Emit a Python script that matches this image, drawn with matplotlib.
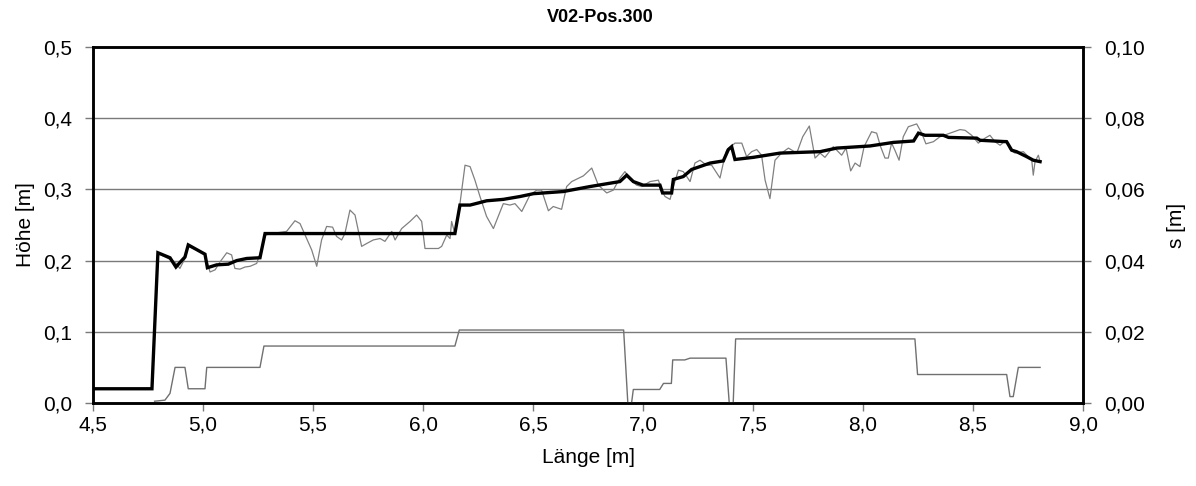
import matplotlib
matplotlib.use("Agg")
import matplotlib.pyplot as plt
from matplotlib.ticker import FuncFormatter, MultipleLocator

plt.rcParams["font.family"] = ["Liberation Sans", "DejaVu Sans"]

title = "V02-Pos.300"
x_label = "Länge [m]"
y_label_left = "Höhe [m]"
y_label_right = "s [m]"

# Höhe, smoothed profile (thick line)
profil_x = [4.50, 4.768, 4.795, 4.85, 4.877, 4.903, 4.918, 4.933, 5.009, 5.02, 5.062,
            5.115, 5.153, 5.199, 5.259, 5.282, 6.145, 6.168, 6.214, 6.252, 6.289, 6.365,
            6.441, 6.502, 6.638, 6.759, 6.895, 6.926, 6.956, 7.0, 7.077, 7.089, 7.130,
            7.138, 7.183, 7.221, 7.305, 7.365, 7.388, 7.403, 7.418, 7.501, 7.623, 7.805,
            7.880, 8.032, 8.138, 8.230, 8.252, 8.282, 8.365, 8.389, 8.517, 8.532, 8.653,
            8.676, 8.698, 8.744, 8.774, 8.805]
profil_h = [0.020, 0.020, 0.211, 0.204, 0.191, 0.200, 0.205, 0.222, 0.209, 0.190, 0.194,
            0.195, 0.200, 0.203, 0.204, 0.238, 0.238, 0.278, 0.278, 0.281, 0.284, 0.286,
            0.290, 0.294, 0.297, 0.304, 0.311, 0.320, 0.311, 0.306, 0.306, 0.295, 0.295,
            0.314, 0.318, 0.328, 0.337, 0.340, 0.356, 0.360, 0.342, 0.345, 0.351, 0.353,
            0.358, 0.361, 0.366, 0.368, 0.379, 0.376, 0.376, 0.373, 0.372, 0.369, 0.367,
            0.355, 0.353, 0.346, 0.341, 0.339]

# Höhe, raw measurement (thin line)
mess_x = [4.797, 4.873, 4.895, 4.918, 4.933, 4.971, 5.009, 5.032, 5.055, 5.077, 5.108,
          5.130, 5.145, 5.168, 5.191, 5.214, 5.244, 5.267, 5.282, 5.335, 5.380, 5.418,
          5.441, 5.471, 5.494, 5.517, 5.539, 5.562, 5.589, 5.607, 5.630, 5.645, 5.668,
          5.691, 5.721, 5.744, 5.774, 5.805, 5.827, 5.858, 5.873, 5.903, 5.941, 5.971,
          5.994, 6.009, 6.039, 6.070, 6.085, 6.108, 6.123, 6.130, 6.145, 6.168, 6.191,
          6.214, 6.236, 6.259, 6.289, 6.320, 6.342, 6.365, 6.395, 6.418, 6.449, 6.486,
          6.517, 6.539, 6.570, 6.592, 6.630, 6.653, 6.676, 6.729, 6.767, 6.797, 6.835,
          6.865, 6.895, 6.918, 6.941, 6.971, 6.994, 7.032, 7.070, 7.085, 7.100, 7.123,
          7.138, 7.161, 7.183, 7.199, 7.214, 7.236, 7.259, 7.289, 7.312, 7.350, 7.365,
          7.380, 7.418, 7.449, 7.471, 7.494, 7.517, 7.539, 7.555, 7.577, 7.600, 7.630,
          7.661, 7.699, 7.726, 7.756, 7.782, 7.805, 7.827, 7.865, 7.903, 7.923, 7.944,
          7.964, 7.986, 8.005, 8.039, 8.062, 8.080, 8.100, 8.115, 8.130, 8.145, 8.164,
          8.183, 8.206, 8.244, 8.267, 8.286, 8.320, 8.350, 8.395, 8.441, 8.464, 8.494,
          8.524, 8.555, 8.577, 8.600, 8.623, 8.650, 8.668, 8.691, 8.729, 8.767, 8.774,
          8.782, 8.797, 8.805]
mess_h = [0.210, 0.198, 0.189, 0.203, 0.220, 0.215, 0.208, 0.184, 0.187, 0.198, 0.211,
          0.208, 0.189, 0.188, 0.191, 0.192, 0.196, 0.217, 0.236, 0.239, 0.241, 0.256,
          0.252, 0.231, 0.215, 0.192, 0.229, 0.248, 0.247, 0.234, 0.229, 0.238, 0.271,
          0.264, 0.220, 0.224, 0.229, 0.231, 0.227, 0.241, 0.229, 0.245, 0.255, 0.264,
          0.255, 0.217, 0.217, 0.217, 0.220, 0.236, 0.231, 0.255, 0.238, 0.280, 0.334,
          0.332, 0.313, 0.290, 0.262, 0.245, 0.262, 0.280, 0.278, 0.280, 0.269, 0.292,
          0.299, 0.299, 0.270, 0.276, 0.272, 0.304, 0.311, 0.319, 0.330, 0.306, 0.295,
          0.299, 0.316, 0.325, 0.314, 0.306, 0.304, 0.311, 0.313, 0.299, 0.290, 0.286,
          0.304, 0.327, 0.325, 0.318, 0.311, 0.337, 0.341, 0.334, 0.334, 0.316, 0.337,
          0.355, 0.365, 0.365, 0.346, 0.353, 0.356, 0.348, 0.313, 0.287, 0.341, 0.351,
          0.358, 0.351, 0.374, 0.389, 0.344, 0.351, 0.345, 0.360, 0.348, 0.358, 0.326,
          0.337, 0.332, 0.360, 0.381, 0.379, 0.360, 0.344, 0.344, 0.365, 0.355, 0.341,
          0.374, 0.388, 0.392, 0.379, 0.364, 0.367, 0.374, 0.379, 0.384, 0.383, 0.376,
          0.365, 0.372, 0.376, 0.367, 0.362, 0.369, 0.356, 0.351, 0.353, 0.341, 0.320,
          0.339, 0.348, 0.339]

# s, right axis
s_x = [4.780, 4.827, 4.850, 4.873, 4.918, 4.933, 5.009, 5.017, 5.259, 5.277, 6.145,
       6.165, 6.912, 6.931, 6.948, 6.956, 7.076, 7.093, 7.129, 7.135, 7.190, 7.214,
       7.377, 7.392, 7.410, 7.421, 8.236, 8.248, 8.653, 8.668, 8.683, 8.706, 8.805]
s_val = [0.0005, 0.0008, 0.0027, 0.010, 0.010, 0.004, 0.004, 0.010, 0.010, 0.016, 0.016,
         0.0205, 0.0205, 0.0, 0.0, 0.0038, 0.0038, 0.0055, 0.0055, 0.0121, 0.0121, 0.0126,
         0.0126, 0.0, 0.0, 0.018, 0.018, 0.008, 0.008, 0.0018, 0.0018, 0.010, 0.010]

fig = plt.figure(figsize=(11.96, 4.86), dpi=100)
ax = fig.add_axes([93 / 1196, 1 - 403 / 486, (1083 - 93) / 1196, (403 - 47) / 486])
ax2 = ax.twinx()

ax.set_xlim(4.5, 9.0)
ax.set_ylim(0.0, 0.5)
ax2.set_ylim(0.0, 0.10)

for yv in [0.1, 0.2, 0.3, 0.4]:
    ax.axhline(yv, color="#7a7a7a", lw=1.0, zorder=1)

ax.plot(mess_x, mess_h, color="#808080", lw=0.9, zorder=2)
ax.plot(profil_x, profil_h, color="black", lw=2.4, zorder=3, solid_joinstyle="miter")
ax2.plot(s_x, s_val, color="#707070", lw=1.0)

ax.xaxis.set_major_locator(MultipleLocator(0.5))
ax.yaxis.set_major_locator(MultipleLocator(0.1))
ax2.yaxis.set_major_locator(MultipleLocator(0.02))
ax.xaxis.set_major_formatter(FuncFormatter(lambda v, p: f"{v:.1f}".replace(".", ",")))
ax.yaxis.set_major_formatter(FuncFormatter(lambda v, p: f"{v:.1f}".replace(".", ",")))
ax2.yaxis.set_major_formatter(FuncFormatter(lambda v, p: f"{v:.2f}".replace(".", ",")))

for a in (ax, ax2):
    a.tick_params(axis="y", direction="out", length=6, width=1, color="#7a7a7a",
                  labelsize=15, pad=9)
    a.tick_params(axis="x", direction="out", length=6, width=1, color="#7a7a7a",
                  labelsize=15, pad=3)
    for sp in a.spines.values():
        sp.set_linewidth(1.8)
        sp.set_color("black")

ax.set_xlabel(x_label, fontsize=15, labelpad=10)
ax.set_ylabel(y_label_left, fontsize=15, labelpad=6)
ax2.set_ylabel(y_label_right, fontsize=15, labelpad=16)
fig.text(600 / 1196, 1 - 18 / 486, title, fontsize=13, fontweight="bold",
         ha="center", va="center")

fig.savefig("out.png", dpi=100)
